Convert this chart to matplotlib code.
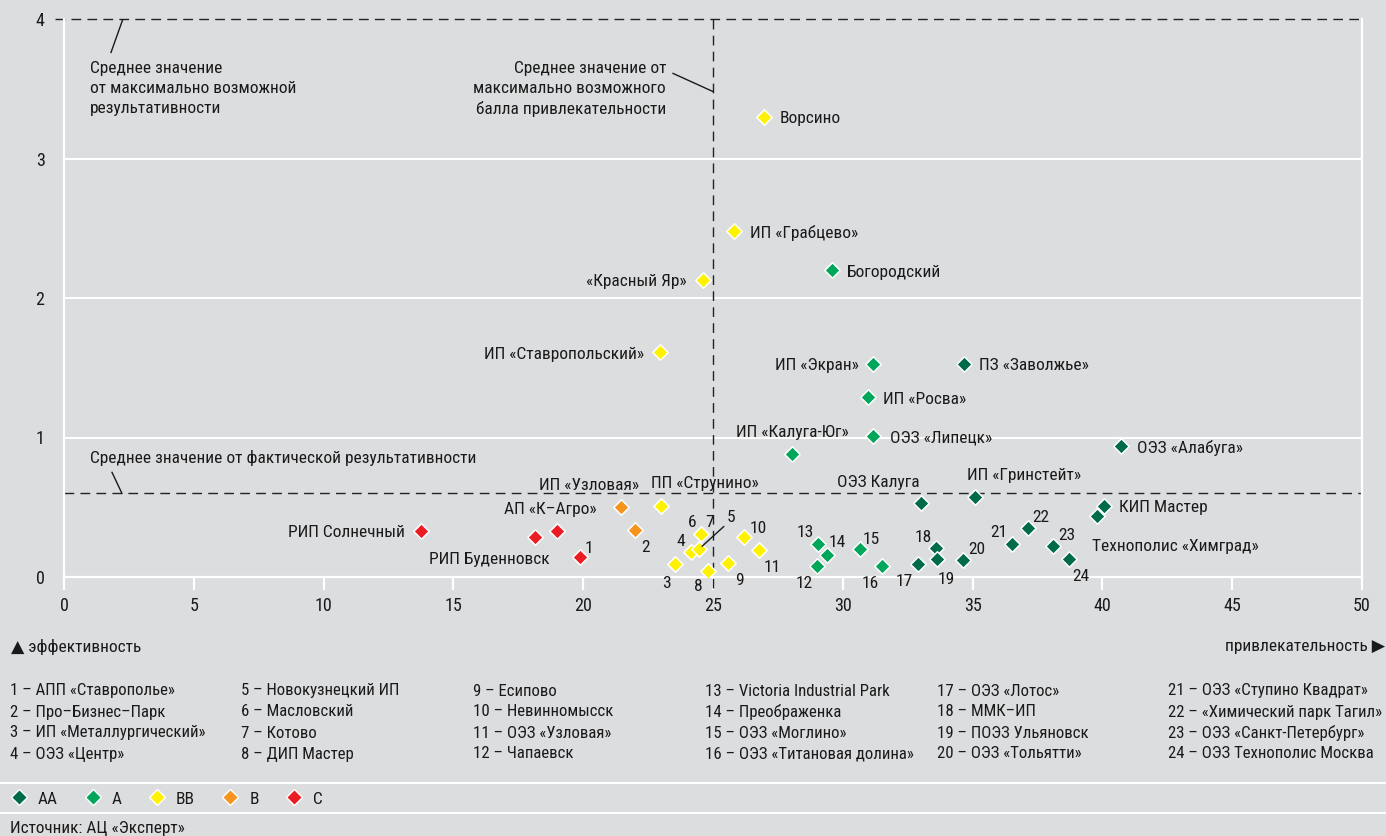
import matplotlib
matplotlib.use("Agg")
import matplotlib.pyplot as plt
from matplotlib import font_manager as fm
from matplotlib.lines import Line2D

# ---------------- fonts ----------------
_names = {f.name for f in fm.fontManager.ttflist}
MAIN = "DejaVu Sans"
for cand in ["Roboto Condensed", "PT Sans Narrow", "Fira Sans Condensed", "Open Sans Condensed",
             "Liberation Sans Narrow", "Archivo Narrow", "Roboto"]:
    if cand in _names:
        MAIN = cand
        break
plt.rcParams["font.family"] = [MAIN, "DejaVu Sans"]

# ---------------- data ----------------
point_labels = [
    "Ворсино", "ИП «Грабцево»", "«Красный Яр»", "ИП «Ставропольский»", "ПП «Струнино»",
    "3", "4", "5", "6", "8", "9", "10", "11",
    "Богородский", "ИП «Экран»", "ИП «Росва»", "ОЭЗ «Липецк»", "ИП «Калуга-Юг»",
    "12", "13", "14", "15", "16",
    "ПЗ «Заволжье»", "ОЭЗ «Алабуга»", "ОЭЗ Калуга", "ИП «Гринстейт»", "КИП Мастер",
    "Технополис «Химград»", "17", "18", "19", "20", "21", "22", "23", "24",
    "ИП «Узловая»", "2",
    "РИП Солнечный", "РИП Буденновск", "АП «К–Агро»", "1",
]
attractiveness = [
    26.96, 25.81, 24.61, 22.96, 23.00,
    23.54, 24.15, 24.46, 24.54, 24.81, 25.58, 26.19, 26.77,
    29.58, 31.16, 30.97, 31.16, 28.04,
    29.01, 29.04, 29.39, 30.66, 31.51,
    34.67, 40.72, 33.01, 35.09, 40.06,
    39.79, 32.90, 33.59, 33.63, 34.63, 36.52, 37.13, 38.10, 38.71,
    21.46, 22.00,
    13.75, 18.14, 18.99, 19.88,
]
effectiveness = [
    3.30, 2.48, 2.13, 1.61, 0.51,
    0.09, 0.18, 0.20, 0.31, 0.04, 0.10, 0.29, 0.19,
    2.20, 1.53, 1.29, 1.01, 0.88,
    0.08, 0.24, 0.16, 0.20, 0.08,
    1.53, 0.94, 0.53, 0.57, 0.51,
    0.44, 0.09, 0.21, 0.13, 0.12, 0.24, 0.35, 0.22, 0.13,
    0.50, 0.34,
    0.33, 0.29, 0.33, 0.14,
]
grades = (
    ["BB"] * 13 + ["A"] * 10 + ["AA"] * 14 + ["B"] * 2 + ["C"] * 4
)
grade_order = ["AA", "A", "BB", "B", "C"]

mean_attractiveness = 25
mean_effectiveness = 0.6
max_effectiveness = 4

x_ticks = [0, 5, 10, 15, 20, 25, 30, 35, 40, 45, 50]
y_ticks = [0, 1, 2, 3, 4]

footnotes = [
    "1 – АПП «Ставрополье»", "2 – Про–Бизнес–Парк", "3 – ИП «Металлургический»", "4 – ОЭЗ «Центр»",
    "5 – Новокузнецкий ИП", "6 – Масловский", "7 – Котово", "8 – ДИП Мастер",
    "9 – Есипово", "10 – Невинномысск", "11 – ОЭЗ «Узловая»", "12 – Чапаевск",
    "13 – Victoria Industrial Park", "14 – Преображенка", "15 – ОЭЗ «Моглино»", "16 – ОЭЗ «Титановая долина»",
    "17 – ОЭЗ «Лотос»", "18 – ММК–ИП", "19 – ПОЭЗ Ульяновск", "20 – ОЭЗ «Тольятти»",
    "21 – ОЭЗ «Ступино Квадрат»", "22 – «Химический парк Тагил»", "23 – ОЭЗ «Санкт-Петербург»", "24 – ОЭЗ Технополис Москва",
]

# ---------------- styles / layout ----------------
BG = "#dcdddf"
TXT = "#1a1a1a"
colors = {"AA": "#006b48", "A": "#00a659", "BB": "#fff200", "B": "#f7941d", "C": "#ec1c24"}

# label offsets in pixels (dx, dy up) and alignment, same order as points
label_offsets = [
    (16, 0, "left"), (16, 0, "left"), (-16, 0, "right"), (-16, 0, "right"), (-10, 24, "left"),
    (-9, -17, "center"), (-10, 12, "center"), None, (-9, 13, "center"), (-10, -13, "center"),
    (11, -15, "center"), (14, 10, "center"), (13, -15, "center"),
    (15, 0, "left"), (-14, 0, "right"), (15, 0, "left"), (17, 0, "left"), (0, 24, "center"),
    (-13, -16, "center"), (-13, 13, "center"), (10, 14, "center"), (11, 12, "center"), (-12, -16, "center"),
    (15, 0, "left"), (16, 0, "left"), (-1, 23, "right"), (-8, 24, "left"), (15, 0, "left"),
    (-5, -29, "left"), (-14, -15, "center"), (-13, 12, "center"), (9, -19, "center"), (14, 13, "center"),
    (-13, 13, "center"), (13, 13, "center"), (14, 13, "center"), (12, -16, "center"),
    (-32, 24, "center"), (10, -16, "center"),
    (-16, 0, "right"), (15, -21, "right"), (40, 23, "right"), (9, 11, "center"),
]
LABEL_SHIFT = -2  # px, visual centring of text

W, H = 1386, 836
fig = plt.figure(figsize=(W / 100, H / 100), dpi=100, facecolor=BG)
L, T, R, B = 64, 19, 1362, 577
ax = fig.add_axes([L / W, 1 - B / H, (R - L) / W, (B - T) / H], facecolor=BG)
ax.set_xlim(0, 50)
ax.set_ylim(0, 4)

FS = 12.5
# grid
for y in y_ticks[1:-1]:
    ax.axhline(y, color="white", lw=1.5, zorder=1)
ax.spines["top"].set_visible(False)
for s in ["left", "right", "bottom"]:
    ax.spines[s].set_color("white")
    ax.spines[s].set_linewidth(1.6)
ax.set_xticks(x_ticks)
ax.set_yticks(y_ticks)
ax.tick_params(axis="x", direction="out", length=9.5, width=1.6, color="white",
               labelsize=13, labelcolor=TXT, pad=5)
ax.tick_params(axis="y", length=0, labelsize=13, labelcolor=TXT, pad=14)

# reference dashed lines
dash = dict(color="#222222", lw=1.0, dashes=(7, 4.5), zorder=2)
ax.add_line(Line2D([-0.35, 50], [max_effectiveness] * 2, clip_on=False, **dash))
ax.add_line(Line2D([0, 50], [mean_effectiveness] * 2, clip_on=False, **dash))
ax.add_line(Line2D([mean_attractiveness] * 2, [-0.08, 4], clip_on=False, **dash))

# points
for g in grade_order:
    xs = [x for x, gg in zip(attractiveness, grades) if gg == g]
    ys = [y for y, gg in zip(effectiveness, grades) if gg == g]
    ax.scatter(xs, ys, marker="D", s=62, c=colors[g], edgecolors="white",
               linewidths=1.1, zorder=4)

# labels
for i, (txt, x, y) in enumerate(zip(point_labels, attractiveness, effectiveness)):
    off = label_offsets[i]
    if off is None:
        ax.annotate(txt, (x, y), xytext=(32, 34 + LABEL_SHIFT), textcoords="offset pixels",
                    ha="center", va="center", fontsize=FS, color=TXT, zorder=5,
                    arrowprops=dict(arrowstyle="-", lw=1.0, color=TXT, shrinkA=0,
                                    shrinkB=3, relpos=(0.1, 0.1)))
        continue
    dx, dy, ha = off
    ax.annotate(txt, (x, y), xytext=(dx, dy + LABEL_SHIFT), textcoords="offset pixels",
                ha=ha, va="center", fontsize=FS, color=TXT, zorder=5)
# extra "7" label sharing the 6 diamond
i6 = point_labels.index("6")
ax.annotate("7", (attractiveness[i6], effectiveness[i6]), xytext=(9, 13 + LABEL_SHIFT),
            textcoords="offset pixels", ha="center", va="center", fontsize=FS,
            color=TXT, zorder=5)

# reference annotations
ax.text(1.0, 3.50, "Среднее значение\nот максимально возможной\nрезультативности",
        ha="left", va="center", fontsize=FS, color=TXT, linespacing=1.42)
ax.plot([2.27, 1.81], [4.0, 3.76], color=TXT, lw=1.0)
ax.text(23.19, 3.50, "Среднее значение от\nмаксимально возможного\nбалла привлекательности",
        ha="right", va="center", fontsize=FS, color=TXT, linespacing=1.42, multialignment="right")
ax.plot([23.46, 25.0], [3.61, 3.48], color=TXT, lw=1.0)
ax.text(1.0, 0.855, "Среднее значение от фактической результативности",
        ha="left", va="center", fontsize=FS, color=TXT)
ax.plot([1.85, 2.23], [0.75, 0.6], color=TXT, lw=1.0)


def fx(px):
    return px / W


def fy(py):
    return 1 - py / H


fig.text(fx(11), fy(647), "▲ эффективность", ha="left", va="center", fontsize=FS, color=TXT)
fig.text(fx(1385), fy(647), "привлекательность ▶", ha="right", va="center", fontsize=FS, color=TXT)

col_x = [10, 241, 473, 705, 937, 1168]
row_y = [691, 712, 733, 754]
for k, item in enumerate(footnotes):
    c, r = divmod(k, 4)
    fig.text(fx(col_x[c]), fy(row_y[r]), item, ha="left", va="center", fontsize=12.1, color=TXT)

for py in (783, 813):
    fig.add_artist(Line2D([0, 1], [fy(py)] * 2, color="white", lw=1.5, transform=fig.transFigure))

handles = [Line2D([], [], marker="D", ls="none", markersize=7.8, markerfacecolor=colors[g],
                  markeredgecolor="white", markeredgewidth=1.0) for g in grade_order]
fig.legend(handles, grade_order, loc="center left", bbox_to_anchor=(fx(10), fy(799)),
           ncol=5, frameon=False, fontsize=12.4, handlelength=1.0, handletextpad=0.6,
           columnspacing=1.55, borderpad=0, borderaxespad=0, labelcolor=TXT)

fig.text(fx(10), fy(829), "Источник: АЦ «Эксперт»", ha="left", va="center", fontsize=12.4, color=TXT)

fig.savefig("out.png", dpi=100, facecolor=BG)
